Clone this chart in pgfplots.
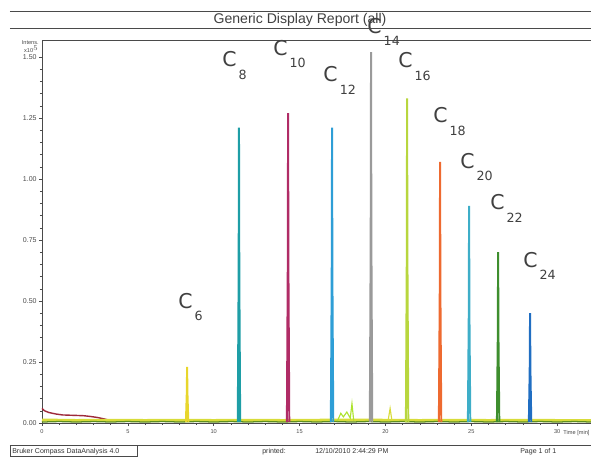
\documentclass[border=0pt]{standalone}
\usepackage{fontspec}
\setmainfont{Liberation Sans}
\newfontfamily\labfont{DejaVu Sans}
\usepackage{pgfplots}
\pgfplotsset{compat=1.18}

\definecolor{axisgray}{HTML}{4A4A4A}
\definecolor{cSix}{HTML}{E8D62C}
\definecolor{cEight}{HTML}{1E9EA6}
\definecolor{cTen}{HTML}{B02C66}
\definecolor{cTwelve}{HTML}{2E9ED6}
\definecolor{cFourteen}{HTML}{9A9A9A}
\definecolor{cSixteen}{HTML}{B8D63E}
\definecolor{cEighteen}{HTML}{EE6A30}
\definecolor{cTwenty}{HTML}{3EAEC8}
\definecolor{cTwentyTwo}{HTML}{3E8E2E}
\definecolor{cTwentyFour}{HTML}{206EC2}
\definecolor{basered}{HTML}{9E2A3A}
\definecolor{basegreen}{HTML}{5E8E1E}
\definecolor{baseyellow}{HTML}{D8DC3A}

% carbon number label: big C with subscript set low to the right
\newcommand{\cn}[1]{{\labfont\fontsize{14.5}{15}\selectfont C}\kern1.5pt\raisebox{-9pt}{\labfont\fontsize{9}{9}\selectfont #1}}

\begin{document}
\begin{tikzpicture}
\begin{axis}[
    scale only axis,
    width=13.735cm, height=9.575cm,
    xmin=0, xmax=32, ymin=0, ymax=1.57,
    clip=false,
    axis line style={axisgray, line width=0.5pt},
    xtick={0,5,10,15,20,25,30},
    ytick={0,0.25,0.5,0.75,1,1.25,1.5},
    minor x tick num=4, minor y tick num=4,
    xtick pos=bottom, ytick pos=left,
    tick align=outside,
    major tick length=0.08cm, minor tick length=0.05cm,
    tick style={axisgray, line width=0.4pt},
    /pgf/number format/assume math mode=true,
    xticklabel style={font=\fontsize{4}{4}\selectfont, text=axisgray, yshift=1pt},
    yticklabel style={font=\fontsize{5}{5}\selectfont, text=axisgray,
        /pgf/number format/.cd, fixed, fixed zerofill, precision=2},
    yticklabel shift=-2pt,
]
% baseline traces
\addplot[basered, line width=1pt] coordinates {
 (0,0.060) (0.15,0.050) (0.4,0.043) (0.8,0.037) (1.2,0.033) (1.6,0.032)
 (2.0,0.031) (2.4,0.030) (2.8,0.027) (3.2,0.023) (3.6,0.017) (4.0,0.010)};
\addplot[baseyellow, line width=2.2pt] coordinates {
 (0,0.012) (2,0.010) (4,0.011) (6,0.010) (8,0.011) (10,0.010) (12,0.011)
 (14,0.010) (16,0.011) (18,0.012) (20,0.011) (22,0.010) (24,0.011)
 (26,0.010) (28,0.011) (30,0.010) (32,0.010)};
\addplot[basegreen, line width=0.9pt] coordinates {
 (0,0.004) (1,0.006) (2,0.004) (3,0.006) (4,0.004) (5,0.006) (6,0.004)
 (7,0.006) (8,0.004) (9,0.006) (10,0.004) (11,0.006) (12,0.004) (13,0.006)
 (14,0.004) (15,0.006) (16,0.004) (17,0.006) (18,0.004) (19,0.006)
 (20,0.004) (21,0.006) (22,0.004) (23,0.006) (24,0.004) (25,0.006)
 (26,0.004) (27,0.006) (28,0.004) (29,0.006) (30,0.004) (31,0.006) (32,0.004)};
% small side peaks
\addplot[baseyellow!80!green, line width=0.8pt] coordinates {
 (17.2,0.008) (17.4,0.040) (17.55,0.025) (17.75,0.045) (17.95,0.020) (18.05,0.080) (18.15,0.010)};
\addplot[baseyellow, line width=0.8pt] coordinates {
 (20.15,0.008) (20.27,0.060) (20.38,0.008)};
% alkane peaks
\addplot[cSix, line width=1.4pt] coordinates {
 (8.38,0.004) (8.43,0.12) (8.45,0.23) (8.47,0.12) (8.52,0.004)};
\addplot[cEight, line width=1.4pt] coordinates {
 (11.40,0.004) (11.45,0.60) (11.47,1.21) (11.49,0.60) (11.54,0.004)};
\addplot[cTen, line width=1.4pt] coordinates {
 (14.26,0.004) (14.31,0.63) (14.33,1.27) (14.35,0.63) (14.40,0.004)};
\addplot[cTwelve, line width=1.4pt] coordinates {
 (16.82,0.004) (16.87,0.60) (16.89,1.21) (16.91,0.60) (16.96,0.004)};
\addplot[cFourteen, line width=1.4pt] coordinates {
 (19.09,0.004) (19.14,0.76) (19.16,1.52) (19.18,0.76) (19.23,0.004)};
\addplot[cSixteen, line width=1.4pt] coordinates {
 (21.19,0.004) (21.24,0.66) (21.26,1.33) (21.28,0.66) (21.33,0.004)};
\addplot[cEighteen, line width=1.4pt] coordinates {
 (23.11,0.004) (23.16,0.53) (23.18,1.07) (23.20,0.53) (23.25,0.004)};
\addplot[cTwenty, line width=1.4pt] coordinates {
 (24.80,0.004) (24.85,0.44) (24.87,0.89) (24.89,0.44) (24.94,0.004)};
\addplot[cTwentyTwo, line width=1.4pt] coordinates {
 (26.49,0.004) (26.54,0.35) (26.56,0.70) (26.58,0.35) (26.63,0.004)};
\addplot[cTwentyFour, line width=1.4pt] coordinates {
 (28.35,0.004) (28.40,0.22) (28.42,0.45) (28.44,0.22) (28.49,0.004)};

% peak labels
\begin{scope}[every node/.style={anchor=base west, inner sep=0pt, text=black!75}]
\node at (axis cs:7.92,0.471) {\cn{6}};
\node at (axis cs:10.48,1.459) {\cn{8}};
\node at (axis cs:13.45,1.508) {\cn{10}};
\node at (axis cs:16.37,1.398) {\cn{12}};
\node at (axis cs:18.93,1.598) {\cn{14}};
\node at (axis cs:20.73,1.455) {\cn{16}};
\node at (axis cs:22.77,1.230) {\cn{18}};
\node at (axis cs:24.34,1.045) {\cn{20}};
\node at (axis cs:26.09,0.873) {\cn{22}};
\node at (axis cs:28.01,0.639) {\cn{24}};
\end{scope}
\node[anchor=west, inner sep=0pt, font=\fontsize{4}{4}\selectfont, text=axisgray]
  at (axis cs:30.35,-0.04) {Time [min]};
\end{axis}

\begin{scope}[x=0.025cm, y=0.025cm]
\draw[axisgray, line width=0.6pt] (-32,412) -- (549,412);
\draw[axisgray, line width=0.6pt] (-32,395) -- (549,395);
\node[font=\fontsize{10}{12}\selectfont, text=black!75] at (258,403.5) {Generic Display Report (all)};
\node[anchor=north east, inner sep=0pt, align=right, font=\fontsize{4}{4.5}\selectfont, text=axisgray]
  at (-3,383) {Intens.\\x10$^{5}$};
\draw[axisgray, line width=0.5pt] (-32,-22) -- (549,-22);
\draw[axisgray, line width=0.4pt] (-32,-22) rectangle (95,-33);
\begin{scope}[every node/.style={anchor=base west, inner sep=0pt, font=\fontsize{5}{5}\selectfont, text=black!80}]
\node at (-30,-30) {Bruker Compass DataAnalysis 4.0};
\node at (220,-30) {printed:};
\node at (273,-30) {12/10/2010 2:44:29 PM};
\node at (478,-30) {Page 1 of 1};
\end{scope}
\pgfresetboundingbox
\path[use as bounding box] (-42,-38) rectangle (549,423);
\end{scope}
\end{tikzpicture}
\end{document}
